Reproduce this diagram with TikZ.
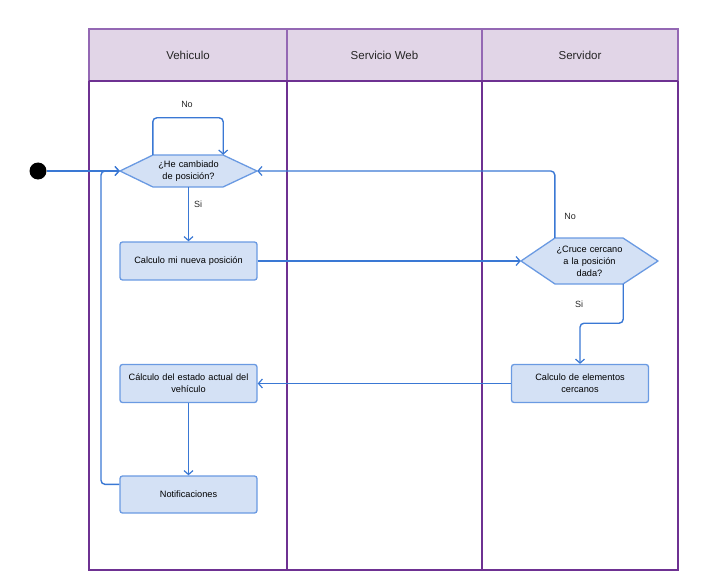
\documentclass[tikz,border=0pt]{standalone}
\usepackage{fontspec}
\setmainfont{Liberation Sans}
\usetikzlibrary{arrows.meta,calc}
\definecolor{lanepurple}{HTML}{6E3192}
\definecolor{headfill}{HTML}{E1D5E7}
\definecolor{headline}{HTML}{9468B4}
\definecolor{flowblue}{HTML}{3A78D4}
\definecolor{boxfill}{HTML}{D4E1F5}
\definecolor{boxline}{HTML}{6A9AE2}
\tikzset{
  procbox/.style={draw=boxline, fill=boxfill, line width=1.3pt, rounded corners=2.5pt,
    minimum width=137pt, minimum height=38pt, inner sep=0pt, align=center,
    text width=134pt, font=\fontsize{9.2}{12}\selectfont},
  hexlabel/.style={minimum width=137pt, inner sep=0pt, align=center,
    text width=100pt, font=\fontsize{9.2}{12}\selectfont},
  hexshape/.style={draw=boxline, fill=boxfill, line width=1.3pt, line join=round},
  flow/.style={draw=flowblue, line width=1.4pt, rounded corners=4pt,
    -{Straight Barb[length=4pt,width=9pt,line width=1.2pt]}},
  lbl/.style={font=\fontsize{9}{10}\selectfont, text=black!85},
  lanetitle/.style={font=\fontsize{11.5}{13}\selectfont, text=black!85},
}
\begin{document}
\begin{tikzpicture}[x=1pt,y=-1pt]
\useasboundingbox (0,0) rectangle (719,588);
% pool
\fill[headfill] (89,29) rectangle (678,81);
\draw[headline, line width=1.5pt] (89,81) -- (89,29) -- (678,29) -- (678,81);
\draw[headline, line width=1.5pt] (287,29) -- (287,81) (482,29) -- (482,81);
\draw[lanepurple, line width=1.6pt] (89,81) -- (678,81);
\draw[lanepurple, line width=1.6pt] (89,81) -- (89,570) -- (678,570) -- (678,81);
\draw[lanepurple, line width=1.6pt] (287,81) -- (287,570) (482,81) -- (482,570);
\node[lanetitle] (t1) at (188,55) {Vehiculo};
\node[lanetitle] (t2) at (384.5,55) {Servicio Web};
\node[lanetitle] (t3) at (580,55) {Servidor};
% start
\node[circle, fill=black, minimum size=17pt, inner sep=0pt] (start) at (38,171) {};
% hexagons
\draw[hexshape] (120,171) -- (153,155) -- (223,155) -- (257,171) -- (223,187) -- (153,187) -- cycle;
\node[hexlabel, minimum height=32pt] (h1) at (188.5,171) {¿He cambiado\\de posición?};
\draw[hexshape] (521,261) -- (555,238) -- (623,238) -- (658,261) -- (623,284) -- (555,284) -- cycle;
\node[hexlabel, minimum height=46pt] (h2) at (589.5,261) {¿Cruce cercano\\a la posición\\dada?};
% boxes
\node[procbox] (b1) at (188.5,261) {Calculo mi nueva posición};
\node[procbox] (b3) at (580,383.5) {Calculo de elementos\\cercanos};
\node[procbox] (b4) at (188.5,383.5) {Cálculo del estado actual del\\vehículo};
\node[procbox, minimum height=37pt] (b5) at (188.5,494.5) {Notificaciones};
% connectors
\coordinate (loopA) at ($(h1.north west)+(33,0)$);
\coordinate (loopB) at ($(h1.north east)+(-34,0)$);
\coordinate (h2top) at ($(h2.north west)+(34,0)$);
\coordinate (h2bot) at ($(h2.south east)+(-35,0)$);
\coordinate (b5out) at ($(b5.north west)+(0,9)$);
\coordinate (ret) at (101,171);
\draw[flow] (start) -- (h1.west);
\draw[flow] (loopA) -- ++(0,-37) -| (loopB);
\node[lbl] (lno1) at (187,104) {No};
\draw[flow] (h1.south) -- (b1.north);
\node[lbl] (lsi1) at (198,204) {Si};
\draw[flow] (b1.east) -- (h2.west);
\draw[flow] (h2top) |- (h1.east);
\node[lbl] (lno2) at (570,216) {No};
\draw[flow] (h2bot) -- ++(0,39) -| (b3.north);
\node[lbl] (lsi2) at (579,304) {Si};
\draw[flow] (b3.west) -- (b4.east);
\draw[flow] (b4.south) -- (b5.north);
\draw[flow] (b5out) -| (ret) -- (h1.west);
\end{tikzpicture}
\end{document}
